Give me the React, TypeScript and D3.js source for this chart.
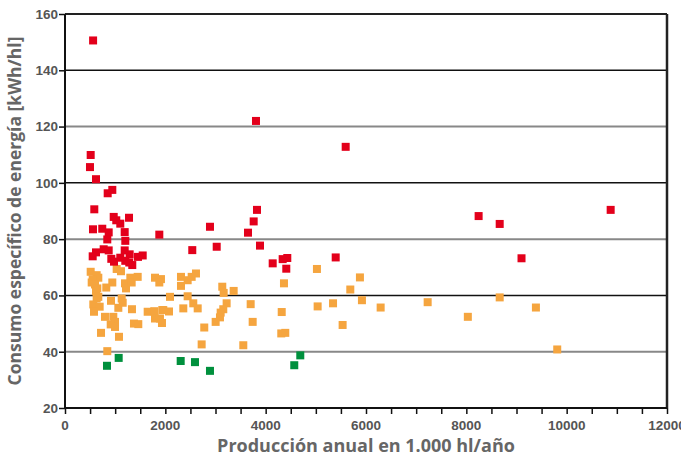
import React, { useEffect, useRef } from "react";
import * as d3 from "d3";

// production (1.000 hl/año) and specific energy (kWh/hl)
const redX = [560, 512, 498, 618, 851, 943, 584, 971, 1022, 1102, 1276, 558, 743, 871, 843, 1190, 1202,
  771, 871, 618, 552, 1190, 1289, 923, 977, 1102, 1202, 1281, 1341, 1455, 1549, 1880, 2890, 2537, 3024,
  3648, 3761, 3807, 3827, 3887, 4140, 4339, 4431, 4411, 5396, 5595, 8245, 8665, 9100, 10877];
const redY = [150.6, 109.9, 105.6, 101.3, 96.3, 97.5, 90.6, 87.9, 86.7, 85.5, 87.6, 83.5, 83.7, 82.4, 79.9,
  82.5, 79.4, 76.4, 76.0, 75.3, 73.9, 76.0, 74.6, 73.0, 72.0, 73.4, 72.3, 71.7, 70.8, 73.7, 74.2, 81.6,
  84.4, 76.1, 77.3, 82.3, 86.3, 122.0, 90.4, 77.7, 71.4, 72.9, 73.3, 69.5, 73.5, 112.8, 88.2, 85.4, 73.2, 90.4];

const orangeX = [512, 631, 664, 532, 552, 598, 644, 618, 664, 631, 564, 691, 578, 797, 963, 997, 911, 997,
  718, 1076, 843, 823, 943, 1030, 1116, 1196, 1216, 1302, 1329, 1449, 917, 1130, 1150, 1063, 1335, 1375,
  1461, 1648, 1780, 1939, 1794, 1893, 1794, 1913, 1880, 2312, 2445, 2525, 2611, 2312, 2093, 2445, 3135,
  3163, 3362, 2557, 2645, 2358, 2073, 1959, 1933, 3222, 3155, 3103, 3089, 3003, 2776, 2724, 3701, 3741,
  3554, 5022, 5879, 4365, 5687, 4320, 5036, 5343, 5919, 6292, 7229, 5534, 4311, 4391, 8665, 8030, 9387, 9812];
const orangeY = [68.4, 67.2, 66.3, 64.6, 65.7, 63.9, 62.5, 61.5, 59.5, 58.9, 56.8, 56.0, 54.2, 52.4, 52.4,
  50.6, 49.7, 48.8, 46.7, 45.3, 40.2, 62.8, 64.6, 69.4, 68.6, 64.3, 62.5, 66.3, 64.6, 66.6, 58.1, 58.9,
  57.4, 55.6, 55.1, 50.0, 49.8, 54.2, 54.4, 54.8, 51.8, 51.8, 66.3, 65.8, 64.6, 66.6, 65.4, 66.6, 67.8,
  63.4, 59.5, 59.7, 63.1, 60.9, 61.6, 57.2, 55.4, 55.4, 54.3, 54.8, 50.2, 57.2, 55.1, 53.9, 52.2, 50.6,
  48.6, 42.6, 56.9, 50.6, 42.3, 69.4, 66.4, 64.3, 62.1, 54.1, 56.1, 57.2, 58.3, 55.7, 57.6, 49.5, 46.5,
  46.7, 59.3, 52.4, 55.7, 40.8];

const greenX = [837, 1070, 2306, 2591, 2890, 4570, 4690];
const greenY = [35.0, 37.8, 36.7, 36.3, 33.2, 35.2, 38.7];

const yTicks = [20, 40, 60, 80, 100, 120, 140, 160];
const xTicks = [0, 2000, 4000, 6000, 8000, 10000, 12000];

const width = 681;
const height = 456;
const margin = { top: 14, right: 14, bottom: 48, left: 65 };

export default function App() {
  const ref = useRef<SVGSVGElement>(null);

  useEffect(() => {
    document.body.style.margin = "0";
    const svg = d3.select(ref.current);
    svg.selectAll("*").remove();

    const x = d3.scaleLinear().domain([0, 12000]).range([margin.left, width - margin.right]);
    const y = d3.scaleLinear().domain([20, 160]).range([height - margin.bottom, margin.top]);

    // grid lines, black and grey alternating
    svg.append("g")
      .selectAll("line")
      .data(yTicks.filter((t) => t > 20 && t < 160))
      .enter()
      .append("line")
      .attr("x1", x(0))
      .attr("x2", x(12000))
      .attr("y1", (d) => y(d))
      .attr("y2", (d) => y(d))
      .attr("stroke", (d) => (d % 40 === 20 ? "#111" : "#888"))
      .attr("stroke-width", (d) => (d % 40 === 20 ? 1.5 : 2));

    // frame
    svg.append("line").attr("x1", x(0)).attr("x2", x(12000)).attr("y1", y(160)).attr("y2", y(160))
      .attr("stroke", "#222").attr("stroke-width", 2);
    svg.append("line").attr("x1", x(12000)).attr("x2", x(12000)).attr("y1", y(160)).attr("y2", y(20))
      .attr("stroke", "#222").attr("stroke-width", 2.5);

    const tickFont = "'Liberation Sans Narrow', 'Arial Narrow', 'Liberation Sans', sans-serif";

    // x axis with minor ticks every 500
    const xAxis = svg.append("g").attr("transform", `translate(0,${y(20)})`);
    xAxis.call(d3.axisBottom(x).tickValues(d3.range(0, 12001, 500)).tickSize(6).tickFormat(() => ""));
    xAxis.select(".domain").remove();
    xAxis.selectAll(".tick line").attr("stroke", "#111").attr("stroke-width", 1.5);
    xAxis.selectAll(".tick text").remove();
    xAxis.selectAll("text.lbl")
      .data(xTicks)
      .enter()
      .append("text")
      .attr("class", "lbl")
      .attr("x", (d) => x(d))
      .attr("y", 22)
      .attr("text-anchor", "middle")
      .attr("fill", "#555")
      .attr("font-family", tickFont)
      .attr("font-weight", "bold")
      .attr("font-size", 13.5)
      .text((d) => String(d));

    const yAxis = svg.append("g").attr("transform", `translate(${x(0)},0)`);
    yAxis.call(d3.axisLeft(y).tickValues(yTicks).tickSize(6));
    yAxis.select(".domain").remove();
    yAxis.selectAll(".tick line").attr("stroke", "#111").attr("stroke-width", 1.5);
    yAxis.selectAll(".tick text")
      .attr("fill", "#555")
      .attr("font-family", tickFont)
      .attr("font-weight", "bold")
      .attr("font-size", 13.5)
      .attr("x", -7);

    svg.append("line").attr("x1", x(0)).attr("x2", x(0)).attr("y1", y(160)).attr("y2", y(20))
      .attr("stroke", "#111").attr("stroke-width", 2);
    svg.append("line").attr("x1", x(0)).attr("x2", x(12000)).attr("y1", y(20)).attr("y2", y(20))
      .attr("stroke", "#111").attr("stroke-width", 2);

    // markers
    const s = 8;
    const series = [
      { xs: orangeX, ys: orangeY, color: "#f5a53f" },
      { xs: redX, ys: redY, color: "#e3001b" },
      { xs: greenX, ys: greenY, color: "#00903d" },
    ];
    series.forEach((ser) => {
      svg.append("g")
        .selectAll("rect")
        .data(ser.xs.map((v, i) => [v, ser.ys[i]]))
        .enter()
        .append("rect")
        .attr("x", (d) => x(d[0]) - s / 2)
        .attr("y", (d) => y(d[1]) - s / 2)
        .attr("width", s)
        .attr("height", s)
        .attr("fill", ser.color);
    });

    // axis titles
    const titleFont = "'Open Sans', 'Noto Sans', sans-serif";
    svg.append("text")
      .attr("x", (x(0) + x(12000)) / 2)
      .attr("y", 452)
      .attr("text-anchor", "middle")
      .attr("fill", "#666")
      .attr("font-family", titleFont)
      .attr("font-weight", "bold")
      .attr("font-size", 18)
      .text("Producción anual en 1.000 hl/año");
    svg.append("text")
      .attr("transform", `translate(21,${(y(20) + y(160)) / 2}) rotate(-90)`)
      .attr("text-anchor", "middle")
      .attr("fill", "#666")
      .attr("font-family", titleFont)
      .attr("font-weight", "bold")
      .attr("font-size", 17.5)
      .text("Consumo específico de energía [kWh/hl]");
  }, []);

  return <svg ref={ref} width={width} height={height} style={{ display: "block" }} />;
}
